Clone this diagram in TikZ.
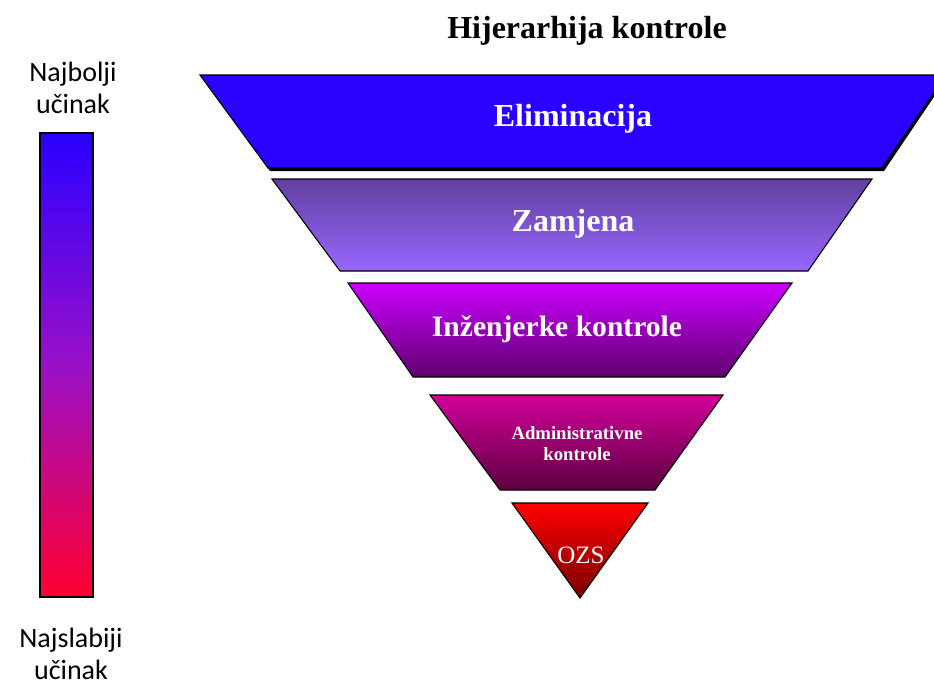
\documentclass[tikz,border=0pt]{standalone}
\usepackage{fontspec}
\setmainfont{Liberation Serif}
\newfontfamily\calibri{Carlito}
\usetikzlibrary{positioning}

\definecolor{elimblue}{HTML}{2A00FF}
\definecolor{zamtop}{HTML}{6040A0}
\definecolor{zambot}{HTML}{9966FF}
\definecolor{inztop}{HTML}{CC00FF}
\definecolor{inzbot}{HTML}{5E0070}
\definecolor{admtop}{HTML}{D2009A}
\definecolor{admbot}{HTML}{5C0040}
\definecolor{ozstop}{HTML}{FF0000}
\definecolor{ozsbot}{HTML}{7A0000}
\definecolor{barmid}{HTML}{9A10C8}
\definecolor{barbot}{HTML}{FF0030}

\tikzset{
    level/.style={draw=black, line width=1.1pt, line join=miter},
    shade/.style={fill=black},
    lbl/.style={text=white, font=\bfseries, align=center},
    side/.style={font=\calibri\fontsize{28}{32}\selectfont, align=center}
}

\begin{document}
\begin{tikzpicture}[x=1pt, y=-1pt]

    \useasboundingbox (0,0) rectangle (934,685);
    \clip (0,0) rectangle (934,685);

    % Title
    \node[font=\bfseries\fontsize{32}{36}\selectfont] (title) at (587,31) {Hijerarhija kontrole};

    % Levels
    \fill[shade] (201,76) -- (948,76) -- (884,171) -- (270,171) -- cycle;
    \filldraw[level, fill=elimblue] (200,75) -- (946,75) -- (882,168) -- (268,168) -- cycle;

    \draw[level, top color=zamtop, bottom color=zambot] (272,179) -- (872,179) -- (808,271) -- (340,271) -- cycle;

    \draw[level, top color=inztop, bottom color=inzbot] (348,283) -- (792,283) -- (725,377) -- (413,377) -- cycle;

    \draw[level, top color=admtop, bottom color=admbot] (430,395) -- (723,395) -- (655,490) -- (500,490) -- cycle;

    \draw[level, top color=ozstop, bottom color=ozsbot] (512,503) -- (648,503) -- (580,598) -- cycle;

    % Labels
    \node[lbl, font=\bfseries\fontsize{32}{36}\selectfont] (elim) at (573,119) {Eliminacija};
    \node[lbl, font=\bfseries\fontsize{32}{36}\selectfont] (zam) at (573,224) {Zamjena};
    \node[lbl, font=\bfseries\fontsize{29.6}{34}\selectfont] (inz) at (557,329) {Inženjerke kontrole};
    \node[lbl, font=\bfseries\fontsize{18.7}{21}\selectfont] (adm) at (577,444) {Administrativne\\kontrole};
    \node[lbl, font=\fontsize{25}{28}\selectfont] (ozs) at (581,555) {OZS};

    % Scale bar
    \shade[top color=elimblue, bottom color=barbot, middle color=barmid] (40,133) rectangle (93,597);
    \draw[line width=1.1pt] (40,133) rectangle (93,597);

    \node[side] (best) at (73,88) {Najbolji\\učinak};
    \node[side] (worst) at (71,654) {Najslabiji\\učinak};

\end{tikzpicture}
\end{document}
